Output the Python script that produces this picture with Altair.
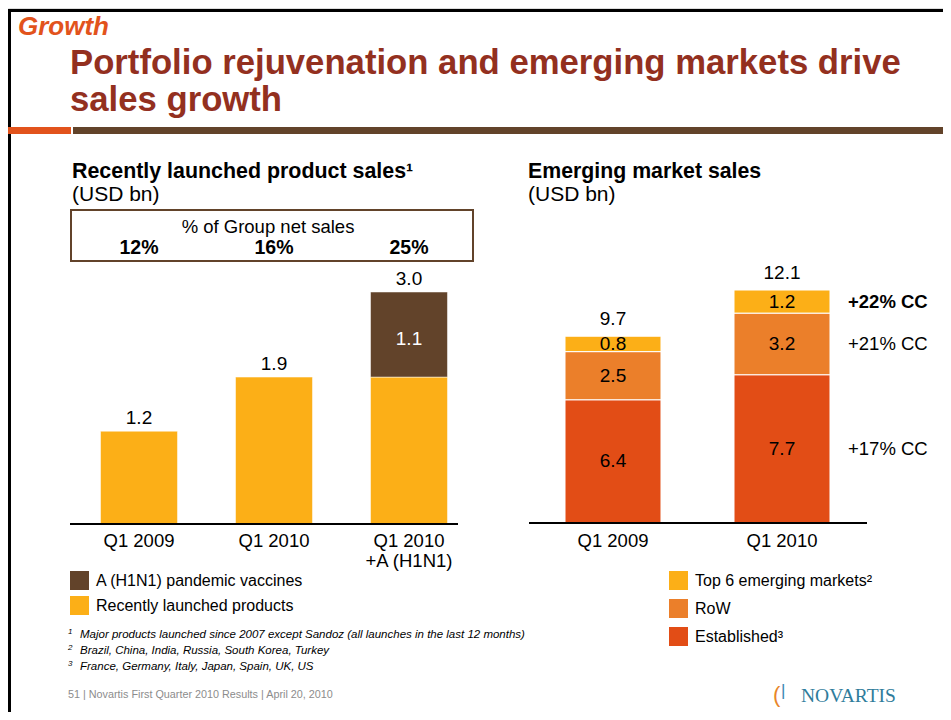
import altair as alt
import pandas as pd

FONT = "Liberation Sans"

# ---------------- data ----------------
left_cats = ["Q1 2009", "Q1 2010", "Q1 2010\n+A (H1N1)"]
left_launched = [1.2, 1.9, 1.9]
left_h1n1 = [0.0, 0.0, 1.1]
left_totals = [1.2, 1.9, 3.0]
left_pct = ["12%", "16%", "25%"]
left_series = ["A (H1N1) pandemic vaccines", "Recently launched products"]

right_cats = ["Q1 2009", "Q1 2010"]
right_established = [6.4, 7.7]
right_row = [2.5, 3.2]
right_top6 = [0.8, 1.2]
right_totals = [9.7, 12.1]
right_series = ["Top 6 emerging markets²", "RoW", "Established³"]
right_growth = ["+17% CC", "+21% CC", "+22% CC"]

footnotes = [
    "Major products launched since 2007 except Sandoz (all launches in the last 12 months)",
    "Brazil, China, India, Russia, South Korea, Turkey",
    "France, Germany, Italy, Japan, Spain, UK, US",
]

YELLOW = "#FCAF17"
BROWN = "#62432A"
ROW_C = "#EB7F2A"
EST_C = "#E24D16"
TITLE_RED = "#93301F"
GROWTH_C = "#E2531C"

OX, OY = 8, 8  # page margin offset


def px(v):
    return v - OX


def py(v):
    return v - OY


def label(text, X, Y, size, color="black", weight="normal", style="normal",
          align="left", font=FONT, baseline="alphabetic"):
    return alt.Chart(pd.DataFrame({"t": [text]})).mark_text(
        align=align, baseline=baseline, fontSize=size, fontWeight=weight,
        fontStyle=style, color=color, font=font
    ).encode(x=alt.value(px(X)), y=alt.value(py(Y)), text="t:N")


def rect(X1, X2, Y1, Y2, **kw):
    return alt.Chart(pd.DataFrame({"a": [0]})).mark_rect(**kw).encode(
        x=alt.value(px(X1)), x2=alt.value(px(X2)),
        y=alt.value(py(Y1)), y2=alt.value(py(Y2)))


def hrule(X1, X2, Y, color="black", width=2):
    return alt.Chart(pd.DataFrame({"a": [0]})).mark_rule(
        color=color, strokeWidth=width).encode(
        x=alt.value(px(X1)), x2=alt.value(px(X2)), y=alt.value(py(Y)))


# ---------------- scales ----------------
lx = alt.Scale(domain=left_cats, range=[px(71.5), px(476.5)],
               paddingInner=0.43, paddingOuter=0.215)
ly = alt.Scale(domain=[0, 3], range=[py(524), py(292)], nice=False, zero=False)
rx = alt.Scale(domain=right_cats, range=[px(528.5), px(866.5)],
               paddingInner=0.432, paddingOuter=0.216)
ry = alt.Scale(domain=[0, 12.1], range=[py(523), py(290)], nice=False, zero=False)

LBL = 19

# ---------------- left chart ----------------
lrows = []
for c, a, b in zip(left_cats, left_launched, left_h1n1):
    lrows.append({"cat": c, "series": left_series[1], "y0": 0.0, "y1": a})
    if b > 0:
        lrows.append({"cat": c, "series": left_series[0], "y0": a, "y1": a + b,
                      "mid": a + b / 2, "lab": f"{b:.1f}"})
ldf = pd.DataFrame(lrows)

left_bars = alt.Chart(ldf).mark_bar(stroke="white", strokeWidth=0.5).encode(
    x=alt.X("cat:N", scale=lx, axis=None, sort=left_cats),
    y=alt.Y("y0:Q", scale=ly, axis=None),
    y2="y1:Q",
    color=alt.Color("series:N", scale=alt.Scale(domain=left_series, range=[BROWN, YELLOW]),
                    legend=alt.Legend(orient="none", legendX=px(70), legendY=py(571),
                                      title=None, symbolType="square", symbolSize=361,
                                      symbolStrokeWidth=0, symbolOpacity=1,
                                      labelFontSize=16, labelFont=FONT, labelColor="black",
                                      labelLimit=400, rowPadding=6, labelOffset=7, padding=0)),
)

ltot = pd.DataFrame({"cat": left_cats, "tot": left_totals,
                     "lab": [f"{v:.1f}" for v in left_totals], "pct": left_pct})
left_tot_text = alt.Chart(ltot).mark_text(fontSize=LBL, font=FONT, dy=-7,
                                          baseline="alphabetic").encode(
    x=alt.X("cat:N", scale=lx, axis=None, sort=left_cats),
    y=alt.Y("tot:Q", scale=ly, axis=None), text="lab:N")

left_seg_text = alt.Chart(ldf[ldf["series"] == left_series[0]]).mark_text(
    fontSize=LBL, font=FONT, color="white", baseline="middle", dy=4).encode(
    x=alt.X("cat:N", scale=lx, axis=None, sort=left_cats),
    y=alt.Y("mid:Q", scale=ly, axis=None), text="lab:N")

left_cat_text = alt.Chart(ltot).mark_text(fontSize=18.5, font=FONT, lineBreak="\n",
                                          lineHeight=20, baseline="alphabetic").encode(
    x=alt.X("cat:N", scale=lx, axis=None, sort=left_cats),
    y=alt.value(py(547)), text="cat:N")

left_pct_text = alt.Chart(ltot).mark_text(fontSize=19.5, font=FONT, fontWeight="bold",
                                          baseline="alphabetic").encode(
    x=alt.X("cat:N", scale=lx, axis=None, sort=left_cats),
    y=alt.value(py(254)), text="pct:N")

# ---------------- right chart ----------------
rrows = []
for c, e, r, t in zip(right_cats, right_established, right_row, right_top6):
    rrows.append({"cat": c, "series": right_series[2], "y0": 0.0, "y1": e,
                  "mid": e / 2, "lab": f"{e:.1f}"})
    rrows.append({"cat": c, "series": right_series[1], "y0": e, "y1": e + r,
                  "mid": e + r / 2, "lab": f"{r:.1f}"})
    rrows.append({"cat": c, "series": right_series[0], "y0": e + r, "y1": e + r + t,
                  "mid": e + r + t / 2, "lab": f"{t:.1f}"})
rdf = pd.DataFrame(rrows)

right_bars = alt.Chart(rdf).mark_bar(stroke="white", strokeWidth=1).encode(
    x=alt.X("cat:N", scale=rx, axis=None, sort=right_cats),
    y=alt.Y("y0:Q", scale=ry, axis=None),
    y2="y1:Q",
    color=alt.Color("series:N",
                    scale=alt.Scale(domain=right_series, range=[YELLOW, ROW_C, EST_C]),
                    legend=alt.Legend(orient="none", legendX=px(669), legendY=py(571),
                                      title=None, symbolType="square", symbolSize=361,
                                      symbolStrokeWidth=0, symbolOpacity=1,
                                      labelFontSize=16, labelFont=FONT, labelColor="black",
                                      labelLimit=400, rowPadding=9, labelOffset=7, padding=0)),
)

right_seg_text = alt.Chart(rdf).mark_text(fontSize=LBL, font=FONT, baseline="middle").encode(
    x=alt.X("cat:N", scale=rx, axis=None, sort=right_cats),
    y=alt.Y("mid:Q", scale=ry, axis=None), text="lab:N")

rtot = pd.DataFrame({"cat": right_cats, "tot": right_totals,
                     "lab": [f"{v:.1f}" for v in right_totals]})
right_tot_text = alt.Chart(rtot).mark_text(fontSize=LBL, font=FONT, dy=-11,
                                           baseline="alphabetic").encode(
    x=alt.X("cat:N", scale=rx, axis=None, sort=right_cats),
    y=alt.Y("tot:Q", scale=ry, axis=None), text="lab:N")

right_cat_text = alt.Chart(rtot).mark_text(fontSize=18.5, font=FONT,
                                           baseline="alphabetic").encode(
    x=alt.X("cat:N", scale=rx, axis=None, sort=right_cats),
    y=alt.value(py(547)), text="cat:N")

last = rdf[rdf["cat"] == right_cats[-1]].copy()
last["growth"] = [right_growth[0], right_growth[1], right_growth[2]]
growth_norm = alt.Chart(last[last["series"] != right_series[0]]).mark_text(
    fontSize=18.5, font=FONT, align="left", baseline="middle").encode(
    x=alt.value(px(848)), y=alt.Y("mid:Q", scale=ry, axis=None), text="growth:N")
growth_bold = alt.Chart(last[last["series"] == right_series[0]]).mark_text(
    fontSize=18.5, font=FONT, fontWeight="bold", align="left", baseline="middle").encode(
    x=alt.value(px(848)), y=alt.Y("mid:Q", scale=ry, axis=None), text="growth:N")

# ---------------- slide decoration ----------------
frame_top = alt.Chart(pd.DataFrame({"a": [0]})).mark_rule(color="black", strokeWidth=3).encode(
    x=alt.value(0), x2=alt.value(935), y=alt.value(2.5))
frame_left = alt.Chart(pd.DataFrame({"a": [0]})).mark_rule(color="black", strokeWidth=3).encode(
    x=alt.value(1.5), y=alt.value(1), y2=alt.value(704))

layers = [
    frame_top, frame_left,
    label("Growth", 18, 35, 26, color=GROWTH_C, weight="bold", style="italic"),
    label("Portfolio rejuvenation and emerging markets drive", 70, 74, 34.7,
          color=TITLE_RED, weight="bold"),
    label("sales growth", 70, 111, 34.7, color=TITLE_RED, weight="bold"),
    rect(8, 71, 127, 134, color=GROWTH_C),
    rect(73, 943, 127, 134, color=BROWN),
    label("Recently launched product sales¹", 72, 178, 21.4, weight="bold"),
    label("(USD bn)", 72, 201, 21),
    label("Emerging market sales", 528, 178, 21.3, weight="bold"),
    label("(USD bn)", 528, 201, 21),
    rect(71, 473, 210, 261, fill="white", stroke=BROWN, strokeWidth=2),
    label("% of Group net sales", 268, 233, 18.5, align="center"),
    left_pct_text,
    left_bars, left_tot_text, left_seg_text, left_cat_text,
    hrule(70, 458, 524, width=2),
    right_bars, right_seg_text, right_tot_text, right_cat_text,
    growth_norm, growth_bold,
    hrule(529, 867, 523, width=2),
]

for i, (num, txt) in enumerate(zip(["1", "2", "3"], footnotes)):
    yb = 638 + 16 * i
    layers.append(label(num, 68, yb - 4, 8, style="italic"))
    layers.append(label(txt, 80, yb, 11.5, style="italic"))

layers.append(label("51 |  Novartis First Quarter 2010 Results  |  April 20, 2010",
                    68, 698, 10.8, color="#8C8C8C"))
layers.append(label("NOVARTIS", 801, 702, 19.5, color="#2F7C9B", font="Liberation Serif"))
layers.append(label("(", 773, 702, 22, color="#E8862A", font="Liberation Sans"))
layers.append(label("|", 781, 696, 17, color="#3B86B0", font="Liberation Sans"))

chart = alt.layer(*layers).resolve_scale(
    x="independent", y="independent", color="independent"
).properties(
    width=935, height=704, padding=0, autosize="none"
).configure_view(stroke=None).configure(font=FONT)

chart.save("out.html", embed_options={"renderer": "svg", "actions": False})
